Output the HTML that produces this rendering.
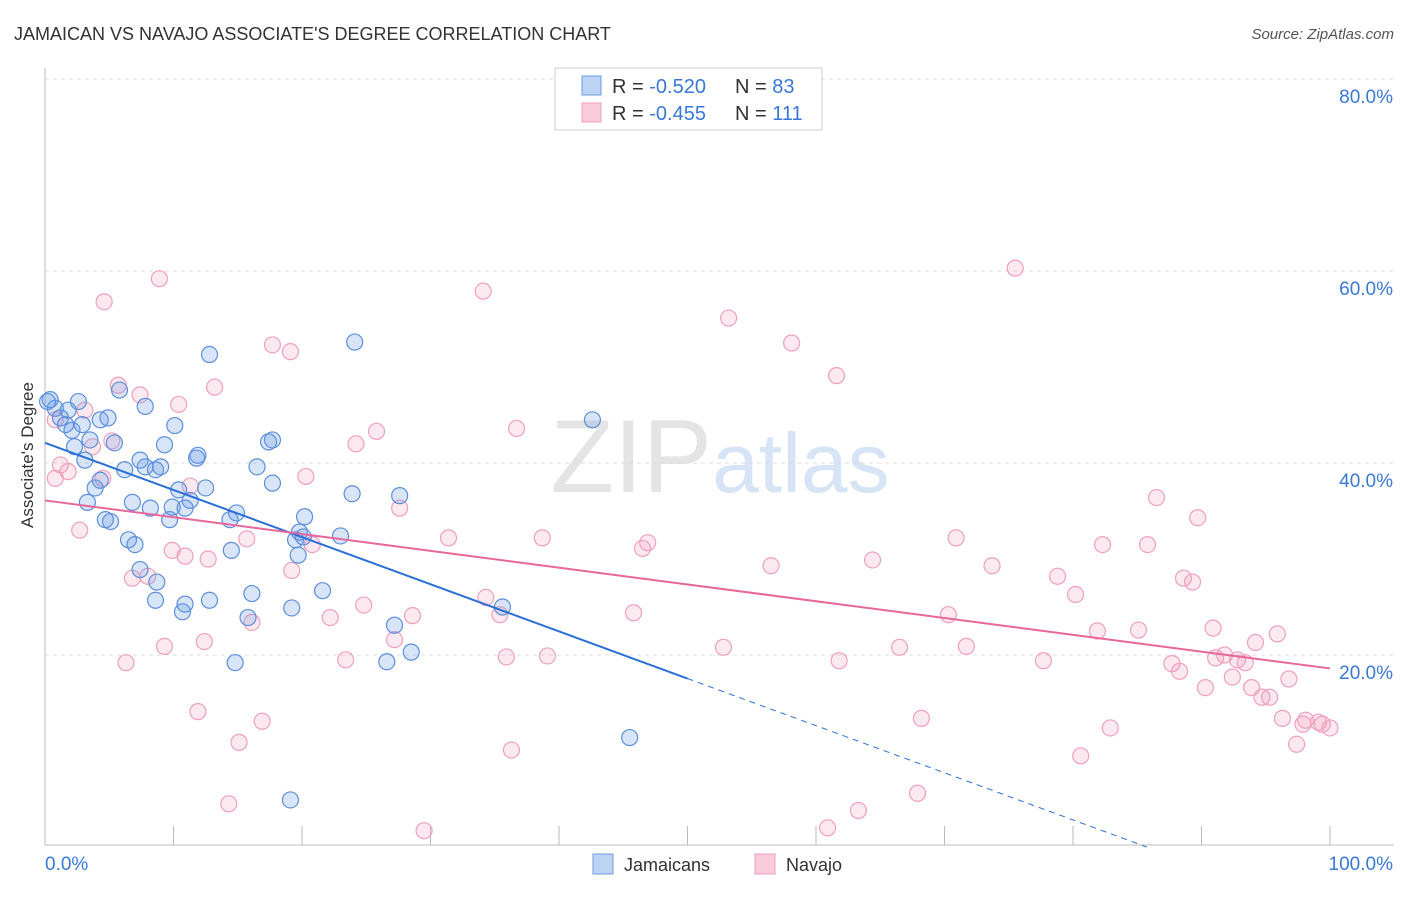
<!DOCTYPE html>
<html><head><meta charset="utf-8">
<style>
body{margin:0;background:#fff;font-family:"Liberation Sans",sans-serif;}
svg text{font-family:"Liberation Sans",sans-serif;}
</style></head>
<body>
<svg id="chart" width="1406" height="892" xmlns="http://www.w3.org/2000/svg">
<text x="14" y="40" font-size="18" fill="#333">JAMAICAN VS NAVAJO ASSOCIATE'S DEGREE CORRELATION CHART</text>
<text x="1394" y="39" font-size="15" fill="#555" text-anchor="end" font-style="italic">Source: ZipAtlas.com</text>
<text x="720" y="492" font-size="104" text-anchor="middle" fill="#e4e4e4" font-family="Liberation Serif">ZIP<tspan fill="#d6e4f5" font-family="Liberation Sans" font-size="84">atlas</tspan></text>
<g id="grid"></g>
<g id="axes"></g>
<g id="marks"></g>
<g id="trends"></g>
<text transform="translate(33,455) rotate(-90)" font-size="17" fill="#333" text-anchor="middle">Associate's Degree</text>
<g>
<rect x="555" y="68" width="267" height="62" fill="#fff" stroke="#ccc"/>
<rect x="582" y="76" width="19" height="19" fill="#bcd3f3" stroke="#6a9be0"/>
<rect x="582" y="103" width="19" height="19" fill="#f9cad9" stroke="#f0a0bc"/>
<text x="612" y="93" font-size="20" fill="#333">R = <tspan fill="#3a78d8">-0.520</tspan></text>
<text x="735" y="93" font-size="20" fill="#333">N = <tspan fill="#3a78d8">83</tspan></text>
<text x="612" y="120" font-size="20" fill="#333">R = <tspan fill="#3a78d8">-0.455</tspan></text>
<text x="735" y="120" font-size="20" fill="#333">N = <tspan fill="#3a78d8">111</tspan></text>
</g>
<g>
<rect x="593" y="854" width="20" height="20" fill="#bcd3f3" stroke="#6a9be0"/>
<text x="624" y="871" font-size="18" fill="#333">Jamaicans</text>
<rect x="755" y="854" width="20" height="20" fill="#f9cad9" stroke="#f0a0bc"/>
<text x="786" y="871" font-size="18" fill="#333">Navajo</text>
</g>
</svg>
<script>
const yTicks=[20,40,60,80];
const yTickLabels=["20.0%","40.0%","60.0%","80.0%"];
const xTickVals=[0,10,20,30,40,50,60,70,80,90,100];
const xEndLabels=["0.0%","100.0%"];
const jamX=[0.4,0.8,1.2,1.8,1.6,2.1,2.6,2.9,3.5,4.3,4.9,3.1,2.3,5.4,5.8,7.8,3.9,4.3,3.3,4.7,5.1,6.2,7.4,7.8,8.6,9.0,9.3,10.1,6.8,8.2,6.5,7.0,9.7,9.9,10.4,11.3,10.9,12.5,11.8,11.9,12.8,7.4,8.7,8.6,10.9,10.7,12.8,14.4,14.9,14.5,16.1,15.8,14.8,16.5,17.4,17.7,17.7,19.2,19.5,19.8,20.2,19.7,20.1,21.6,23.0,23.9,24.1,27.6,27.2,26.6,28.5,35.6,42.6,45.5,19.1,0.2];
const jamY=[46.6,45.7,44.7,45.5,44.0,43.4,46.4,44.0,42.4,44.5,44.7,40.3,41.7,42.1,47.6,45.9,37.4,38.2,35.9,34.1,33.9,39.3,40.3,39.6,39.3,39.6,41.9,43.9,35.9,35.3,32.0,31.5,34.1,35.4,37.2,36.1,35.3,37.4,40.5,40.8,51.3,28.9,27.6,25.7,25.3,24.5,25.7,34.1,34.8,30.9,26.4,23.9,19.2,39.6,42.2,42.4,37.9,24.9,32.0,32.8,34.4,30.4,32.3,26.7,32.4,36.8,52.6,36.6,23.1,19.3,20.3,25.0,44.5,11.4,4.9,46.4];
const navX=[4.6,8.9,34.1,75.5,53.2,58.1,61.6,17.7,19.1,5.7,7.4,10.4,13.2,3.1,0.8,5.2,3.7,1.2,1.8,0.8,4.5,2.7,11.3,20.3,24.2,25.8,36.7,27.6,31.4,38.7,46.9,46.5,9.9,10.9,12.7,15.7,20.8,6.8,8.0,19.2,34.3,56.5,64.4,70.9,73.7,78.8,80.2,82.3,85.8,86.5,89.7,88.6,89.3,9.3,12.4,6.3,16.1,22.2,24.8,23.4,27.2,28.6,35.4,35.9,39.1,45.8,52.8,61.8,66.5,70.3,71.7,77.7,81.9,85.1,87.7,88.3,90.9,91.1,91.8,92.8,93.4,94.2,95.9,92.4,90.3,93.9,94.7,95.3,96.8,96.3,98.1,99.1,99.4,100,97.9,97.4,82.9,80.6,68.2,67.9,63.3,60.9,36.3,29.5,14.3,15.1,16.9,11.9];
const navY=[56.8,59.2,57.9,60.3,55.1,52.5,49.1,52.3,51.6,48.1,47.1,46.1,47.9,45.5,44.5,42.3,41.7,39.8,39.1,38.4,38.4,33.0,37.6,38.6,42.0,43.3,43.6,35.3,32.2,32.2,31.7,31.1,30.9,30.3,30.0,32.1,31.5,28.0,28.2,28.8,26.0,29.3,29.9,32.2,29.3,28.2,26.3,31.5,31.5,36.4,34.3,28.0,27.6,20.9,21.4,19.2,23.4,23.9,25.2,19.5,21.6,24.1,24.2,19.8,19.9,24.4,20.8,19.4,20.8,24.2,20.9,19.4,22.5,22.6,19.1,18.3,22.8,19.7,20.0,19.5,19.2,21.3,22.2,17.7,16.6,16.6,15.6,15.6,17.5,13.4,13.2,13.0,12.8,12.4,12.8,10.7,12.4,9.5,13.4,5.6,3.8,2.0,10.1,1.7,4.5,10.9,13.1,14.1];
const jamTrend=[42.1,-7.0];
const navTrend=[36.1,18.6];

const NS="http://www.w3.org/2000/svg";
const X0=45,X1=1330,Y0=847,PPY=9.6;
function xs(v){return X0+(X1-X0)*v/100;}
function ys(v){return Y0-v*PPY;}
function mk(tag,attrs,parent){const e=document.createElementNS(NS,tag);for(const k in attrs)e.setAttribute(k,attrs[k]);parent.appendChild(e);return e;}
const grid=document.getElementById('grid'),axes=document.getElementById('axes'),marks=document.getElementById('marks'),trends=document.getElementById('trends');
yTicks.forEach((t,i)=>{
 const l=mk('line',{x1:X0,x2:1394,y1:ys(t),y2:ys(t),stroke:'#ddd','stroke-dasharray':'4,4'},grid);
 
 
 const tx=mk('text',{x:1393,y:ys(t)+24,'font-size':19,fill:'#3a78d8','text-anchor':'end'},axes);
 tx.textContent=yTickLabels[i];
 
 
});
const ya=mk('line',{x1:X0,x2:X0,y1:68,y2:845,stroke:'#bbb'},axes);


const xa=mk('line',{x1:X0,x2:1394,y1:845,y2:845,stroke:'#bbb'},axes);


xTickVals.forEach(v=>{
 const t=mk('line',{x1:xs(v),x2:xs(v),y1:826,y2:845,stroke:'#bbb'},axes);
 
 
});
[[0,'start',45],[100,'end',1393]].forEach((d,i)=>{
 const tx=mk('text',{x:d[2],y:870,'font-size':19,fill:'#3a78d8','text-anchor':d[1]},axes);
 tx.textContent=xEndLabels[i];
 
 
});
navX.forEach((x,i)=>{
 const c=mk('circle',{cx:xs(x),cy:ys(navY[i]),r:8,fill:'rgba(240,150,180,0.22)',stroke:'#f0a0bc','stroke-width':1.2},marks);
 
 
});
jamX.forEach((x,i)=>{
 const c=mk('circle',{cx:xs(x),cy:ys(jamY[i]),r:8,fill:'rgba(100,150,230,0.25)',stroke:'#5b8fdc','stroke-width':1.2},marks);
 
 
});
const jy=x=>jamTrend[0]+(jamTrend[1]-jamTrend[0])*x/100;
const j1=mk('line',{x1:xs(0),y1:ys(jy(0)),x2:xs(50),y2:ys(jy(50)),stroke:'#2a6fd6','stroke-width':2},trends);


const xEnd=(0-jamTrend[0])/(jamTrend[1]-jamTrend[0])*100;
const j2=mk('line',{x1:xs(50),y1:ys(jy(50)),x2:xs(xEnd),y2:ys(0),stroke:'#2a6fd6','stroke-width':1,'stroke-dasharray':'6,5'},trends);


const n1=mk('line',{x1:xs(0),y1:ys(navTrend[0]),x2:xs(100),y2:ys(navTrend[1]),stroke:'#e8679a','stroke-width':2},trends);


</script>
</body></html>
